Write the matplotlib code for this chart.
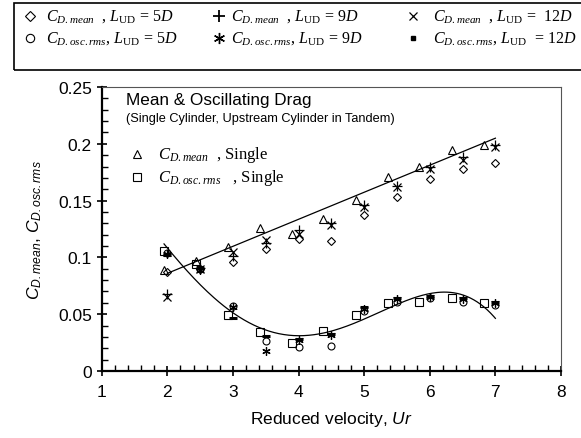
import numpy as np
import matplotlib.pyplot as plt
from matplotlib.patches import Rectangle
from matplotlib.lines import Line2D
from matplotlib.ticker import MultipleLocator

plt.rcParams['font.family'] = 'Liberation Sans'
plt.rcParams['mathtext.fontset'] = 'custom'
plt.rcParams['mathtext.rm'] = 'Liberation Serif'
plt.rcParams['mathtext.it'] = 'Liberation Serif:italic'
plt.rcParams['mathtext.sf'] = 'Liberation Sans:italic'

# single cylinder
ur_single = [1.95, 2.44, 2.93, 3.41, 3.90, 4.38, 4.88, 5.36, 5.84, 6.34, 6.82]
mean_single = [0.089, 0.0966, 0.109, 0.126, 0.1206, 0.134, 0.1505, 0.171, 0.180, 0.1945, 0.199]
osc_single = [0.106, 0.094, 0.049, 0.034, 0.025, 0.0355, 0.0493, 0.060, 0.061, 0.064, 0.060]

# upstream cylinder in tandem
ur = [2.0, 2.5, 3.0, 3.5, 4.0, 4.5, 5.0, 5.5, 6.0, 6.5, 7.0]
mean_5d = [0.087, 0.090, 0.0957, 0.107, 0.116, 0.114, 0.137, 0.1535, 0.169, 0.178, 0.183]
mean_9d = [0.068, 0.091, 0.101, 0.113, 0.124, 0.130, 0.146, 0.163, 0.180, 0.188, 0.199]
mean_12d = [0.065, 0.090, 0.1045, 0.1156, 0.121, 0.1285, 0.144, 0.1617, 0.178, 0.186, 0.197]
osc_5d = [0.104, 0.090, 0.057, 0.026, 0.021, 0.0217, 0.053, 0.061, 0.064, 0.061, 0.058]
osc_9d = [0.103, 0.089, 0.056, 0.018, 0.027, 0.032, 0.055, 0.063, 0.065, 0.063, 0.060]
osc_12d = [0.102, 0.091, 0.047, 0.031, 0.028, 0.033, 0.056, 0.064, 0.066, 0.064, 0.061]

W, H = 581, 439
fig = plt.figure(figsize=(W / 100, H / 100), dpi=100)
ax = fig.add_axes([101.7 / W, 1 - 372 / H, (561 - 101.7) / W, (372 - 88) / H])

def px(x, y):
    return x / W, 1 - y / H

open_kw = dict(ls='none', mfc='none', mec='black', mew=0.8)

# trend lines
fit_mean = np.polyfit(ur_single, mean_single, 1)
fit_osc = np.polyfit(ur_single, osc_single, 4)
xl = np.linspace(2.0, 7.0, 50)
xc = np.linspace(1.95, 7.0, 200)
ax.plot(xl, np.polyval(fit_mean, xl), color='black', lw=0.9)
ax.plot(xc, np.polyval(fit_osc, xc), color='black', lw=0.9)

ax.plot(ur_single, mean_single, marker='^', ms=6, **open_kw)
ax.plot(ur_single, osc_single, marker='s', ms=5.5, **open_kw)
ax.plot(ur, mean_5d, marker='D', ms=4.5, **open_kw)
ax.plot(ur, mean_9d, marker='+', ms=7, ls='none', color='black', mew=0.9)
ax.plot(ur, mean_12d, marker='x', ms=5.5, ls='none', color='black', mew=0.9)
ax.plot(ur, osc_5d, marker='o', ms=5, **open_kw)
ax.plot(ur, osc_9d, marker=(6, 2, 0), ms=6, ls='none', color='black', mew=0.9)
ax.plot(ur, osc_12d, marker='_', ms=6, ls='none', color='black', mew=2.2)

ax.set_xlim(1, 8)
ax.set_ylim(0, 0.25)
ax.xaxis.set_major_locator(MultipleLocator(1))
ax.xaxis.set_minor_locator(MultipleLocator(0.2))
ax.yaxis.set_major_locator(MultipleLocator(0.05))
ax.yaxis.set_minor_locator(MultipleLocator(0.01))
ax.set_yticks([0, 0.05, 0.1, 0.15, 0.2, 0.25])
ax.set_yticklabels(['0', '0.05', '0.1', '0.15', '0.2', '0.25'])
ax.tick_params(which='major', direction='inout', length=7, width=1.2, labelsize=12.5)
ax.tick_params(axis='x', which='major', pad=6)
ax.tick_params(which='minor', direction='in', length=4, width=1.0)
for s in ['left', 'bottom']:
    ax.spines[s].set_linewidth(1.6)
for s in ['top', 'right']:
    ax.spines[s].set_linewidth(0.8)
    ax.spines[s].set_color('#555555')

ax.set_xlabel(r'Reduced velocity, $\mathsf{Ur}$', fontsize=12.5, labelpad=7)
ax.set_ylabel(r'$\mathsf{C_{D.mean}}$, $\mathsf{C_{D.osc.rms}}$', fontsize=12.5, labelpad=10)

# titles inside plot
fig.text(*px(126, 101), 'Mean & Oscillating Drag', fontsize=12.3, va='center')
fig.text(*px(126, 119), '(Single Cylinder, Upstream Cylinder in Tandem)', fontsize=9.2, va='center')

# inner legend for single cylinder
fig.add_artist(Line2D([px(136.7, 155)[0]], [px(136.7, 155)[1]], transform=fig.transFigure,
                      marker='^', ms=6, **open_kw))
fig.add_artist(Line2D([px(136.7, 178)[0]], [px(136.7, 178)[1]], transform=fig.transFigure,
                      marker='s', ms=5.5, **open_kw))
fig.text(*px(158, 155), r'$C_{D.mean}$  , Single', fontsize=12, va='center', family='Liberation Serif')
fig.text(*px(158, 178), r'$C_{D.osc.rms}$   , Single', fontsize=12, va='center', family='Liberation Serif')

# top legend box
fig.add_artist(Rectangle(px(14, 71), (W - 14 + 5) / W, 67 / H, transform=fig.transFigure,
                         fill=False, ec='black', lw=1.2))
rows = [16.7, 38.9]
mx = [29.6, 218.5, 413]
tx = [46, 231, 433]
marks = [
    [dict(marker='D', ms=5, **open_kw), dict(marker='+', ms=9, ls='none', color='black', mew=1.3),
     dict(marker='x', ms=6, ls='none', color='black', mew=0.9)],
    [dict(marker='o', ms=6, **open_kw), dict(marker=(6, 2, 0), ms=8, ls='none', color='black', mew=1.0),
     dict(marker='s', ms=2.5, ls='none', color='black')],
]
labels = [
    [r'$C_{D.mean}$  , $L_{\rm UD}$ = 5$D$', r'$C_{D.mean}$  , $L_{\rm UD}$ = 9$D$',
     r'$C_{D.mean}$  , $L_{\rm UD}$ =  12$D$'],
    [r'$C_{D.osc.rms}$, $L_{\rm UD}$ = 5$D$', r'$C_{D.osc.rms}$, $L_{\rm UD}$ = 9$D$',
     r'$C_{D.osc.rms}$, $L_{\rm UD}$  = 12$D$'],
]
for r, y in enumerate(rows):
    for c in range(3):
        fx, fy = px(mx[c], y)
        fig.add_artist(Line2D([fx], [fy], transform=fig.transFigure, **marks[r][c]))
        fig.text(*px(tx[c], y), labels[r][c], fontsize=11.5, va='center', family='Liberation Serif')

fig.savefig('out.png', dpi=100)
